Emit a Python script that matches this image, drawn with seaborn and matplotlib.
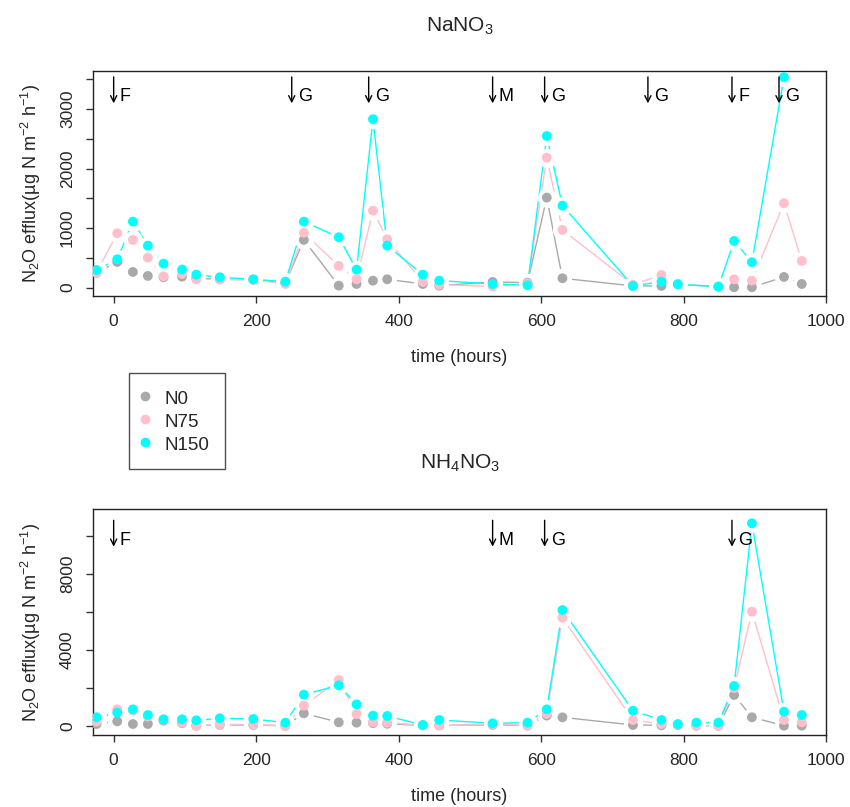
import numpy as np
import pandas as pd
import matplotlib
matplotlib.use('Agg')
import matplotlib.pyplot as plt
from matplotlib.lines import Line2D
import seaborn as sns

# sampling times (hours after fertilisation)
hours = [-24, 5, 27, 48, 70, 96, 116, 149, 196, 241, 267, 316, 341, 364, 384,
         434, 457, 532, 581, 608, 630, 729, 769, 792, 818, 849, 871, 896, 941, 966]

treatments = ['N0', 'N75', 'N150']
palette = {'N0': 'darkgray', 'N75': 'pink', 'N150': '#00FFFF'}

nan = np.nan
# NaNO3 panel (no sample at 818 h)
nano3_n0 = [250, 432, 264, 197, 175, 185, 167, 140, 133, 75, 802, 34, 62, 118, 141,
            62, 34, 96, 84, 1513, 158, 29, 29, 57, nan, 17, 7, 7, 180, 62]
nano3_n75 = [252, 914, 802, 504, 190, 230, 141, 140, 133, 62, 924, 365, 141, 1294, 813,
             96, 50, 20, 70, 2185, 970, 50, 213, 57, nan, 17, 141, 118, 1418, 449]
nano3_n150 = [297, 477, 1109, 706, 403, 303, 219, 175, 141, 101, 1109, 847, 303, 2830, 706,
              219, 118, 62, 40, 2548, 1378, 29, 101, 57, nan, 17, 785, 427, 3536, nan]

# NH4NO3 panel
nh4no3_n0 = [105, 246, 105, 105, 280, 150, 10, 60, 50, 10, 667, 193, 175, 150, 120,
             30, 30, 60, 20, 550, 456, 53, 40, 50, 15, 10, 1632, 458, 18, 18]
nh4no3_n75 = [228, 877, 800, 500, 330, 175, 18, 88, 70, 18, 1070, 2421, 632, 193, 175,
              40, 18, 90, 35, 632, 5702, 316, 105, 80, 20, 18, 2000, 6017, 316, 193]
nh4no3_n150 = [456, 702, 877, 579, 351, 351, 298, 404, 368, 175, 1649, 2140, 1140, 544, 526,
               53, 316, 140, 175, 877, 6105, 807, 316, 105, 175, 175, 2105, 10668, 754, 579]

# management events marked with arrows
nano3_events = [0, 250, 358, 532, 605, 750, 868, 934]
nano3_event_labels = ['F', 'G', 'G', 'M', 'G', 'G', 'F', 'G']
nh4no3_events = [0, 532, 605, 868]
nh4no3_event_labels = ['F', 'M', 'G', 'G']


def long_form(n0, n75, n150):
    frames = []
    for name, vals in zip(treatments, [n0, n75, n150]):
        frames.append(pd.DataFrame({'hours': hours, 'flux': vals, 'treatment': name}))
    df = pd.concat(frames, ignore_index=True)
    return df.dropna()


def draw_panel(ax, df, ylim, yticks, ylabels, events, event_labels, event_y, title):
    sns.lineplot(data=df, x='hours', y='flux', hue='treatment', hue_order=treatments,
                 palette=palette, estimator=None, lw=1.0, legend=False, ax=ax, zorder=1)
    # white halo under the points gives the gapped R type="b" look
    sns.scatterplot(data=df, x='hours', y='flux', color='white', s=190, linewidth=0,
                    legend=False, ax=ax, zorder=2)
    sns.scatterplot(data=df, x='hours', y='flux', hue='treatment', hue_order=treatments,
                    palette=palette, s=50, linewidth=0, legend=False, ax=ax, zorder=3)

    for ev, lab in zip(events, event_labels):
        ax.annotate('', xy=(ev, event_y), xytext=(0, 19), textcoords='offset points',
                    arrowprops=dict(arrowstyle='->', lw=1, color='black',
                                    mutation_scale=11, shrinkA=0, shrinkB=0),
                    zorder=4)
        ax.annotate(lab, xy=(ev, event_y), xytext=(4.5, 1.5), textcoords='offset points',
                    ha='left', va='baseline', fontsize=13, color='black', zorder=4)

    ax.set_xlim(-29, 1000)
    ax.set_ylim(*ylim)
    ax.set_xticks([0, 200, 400, 600, 800, 1000])
    ax.set_yticks(yticks, ylabels)
    ax.tick_params(axis='both', direction='out', length=5, width=1, color='#333333',
                   labelsize=12.5, bottom=True, left=True, top=False, right=False, pad=8)
    for t in ax.get_yticklabels():
        t.set_rotation(90)
        t.set_verticalalignment('center')
    for sp in ax.spines.values():
        sp.set_visible(True)
        sp.set_color('#222222')
        sp.set_linewidth(1)
        sp.set_zorder(2.5)

    ax.set_xlabel('time (hours)', fontsize=13)
    ax.set_ylabel('N$_2$O efflux(\u00b5g N m$^{-2}$ h$^{-1}$)', fontsize=13)
    ax.xaxis.set_label_coords(0.5, -0.235)
    ax.yaxis.set_label_coords(-0.068, 0.5)
    ax.text(0.5, 1.2, title, transform=ax.transAxes, ha='center', va='center', fontsize=15)


sns.set_theme(style='white')
plt.rcParams['font.family'] = ['Liberation Sans', 'DejaVu Sans']
plt.rcParams['mathtext.fontset'] = 'custom'
plt.rcParams['mathtext.rm'] = 'Liberation Sans'
plt.rcParams['mathtext.it'] = 'Liberation Sans:italic'
plt.rcParams['mathtext.default'] = 'regular'

fig = plt.figure(figsize=(8.5, 8.07), dpi=100)
ax1 = fig.add_axes([93 / 850, 1 - 296 / 807, 733 / 850, 225 / 807])
ax2 = fig.add_axes([93 / 850, 1 - 735 / 807, 733 / 850, 226 / 807])

draw_panel(ax1, long_form(nano3_n0, nano3_n75, nano3_n150), (-140, 3640),
           [0, 500, 1000, 1500, 2000, 2500, 3000, 3500],
           ['0', '', '1000', '', '2000', '', '3000', ''],
           nano3_events, nano3_event_labels, 3097, 'NaNO$_3$')
draw_panel(ax2, long_form(nh4no3_n0, nh4no3_n75, nh4no3_n150), (-474, 11421),
           [0, 2000, 4000, 6000, 8000, 10000],
           ['0', '', '4000', '', '8000', ''],
           nh4no3_events, nh4no3_event_labels, 9437, 'NH$_4$NO$_3$')

handles = [Line2D([], [], marker='o', ls='', color=palette[t], markersize=6) for t in treatments]
leg = fig.legend(handles, treatments, loc='upper left', bbox_to_anchor=(129 / 850, 1 - 373 / 807),
                 frameon=True, fancybox=False, fontsize=13.5, handletextpad=1.0,
                 handlelength=0.1, handleheight=1.25, borderpad=0.8, labelspacing=0.15,
                 borderaxespad=0)
leg.get_frame().set_edgecolor('#222222')
leg.get_frame().set_linewidth(1)

fig.savefig('out.png', dpi=100)
